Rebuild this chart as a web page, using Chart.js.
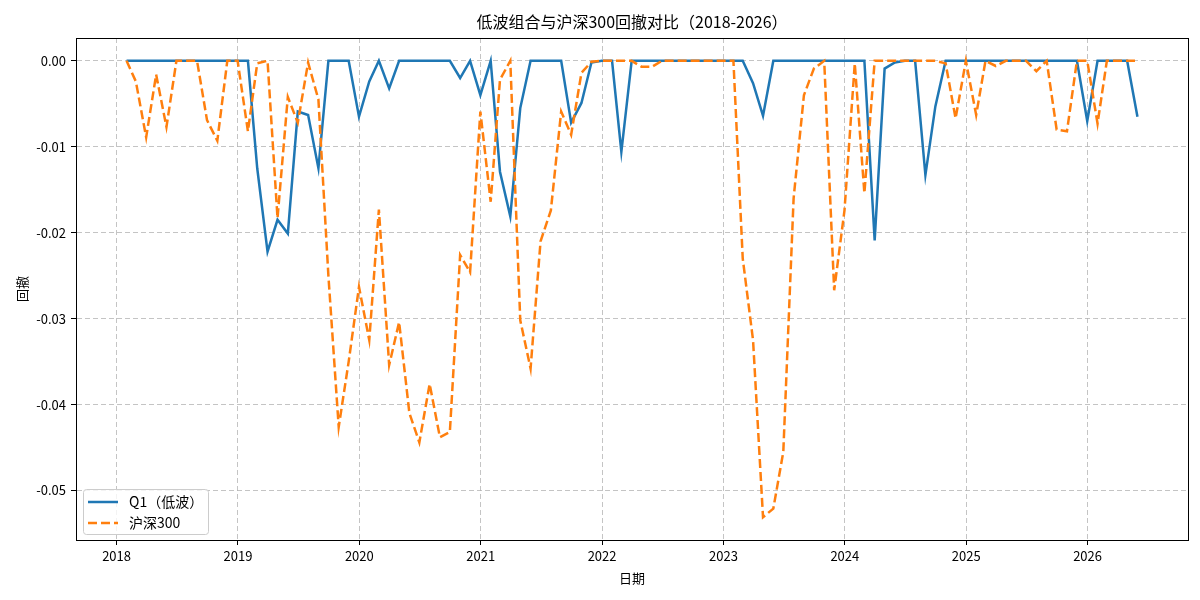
<!DOCTYPE html>
<html>
<head>
<meta charset="utf-8">
<script src="https://cdn.jsdelivr.net/npm/chart.js"></script>
<style>
  html, body { margin: 0; padding: 0; background: #fff; }
  #wrap { width: 1200px; height: 600px; }
</style>
</head>
<body>
<div id="wrap"><canvas id="dd-chart" width="1200" height="600"></canvas></div>
<script>
// 月末日期：2018-01 ～ 2026-05
const startYear = 2018;
const monthCount = 101;

// Q1（低波）回撤，每行一年
const q1Drawdown = [
  0, 0, 0, 0, 0, 0, 0, 0, 0, 0, 0, 0,
  0, -0.0125, -0.0222, -0.0185, -0.0201, -0.0059, -0.0063, -0.0125, 0, 0, 0, -0.0065,
  -0.0024, 0, -0.0032, 0, 0, 0, 0, 0, 0, -0.0020, 0, -0.0040,
  0, -0.0129, -0.0181, -0.0055, 0, 0, 0, 0, -0.0072, -0.0049, -0.0002, 0,
  0, -0.0106, 0, 0, 0, 0, 0, 0, 0, 0, 0, 0,
  0, 0, -0.0026, -0.0064, 0, 0, 0, 0, 0, 0, 0, 0,
  0, 0, -0.0209, -0.0009, -0.0002, 0, 0, -0.0133, -0.0053, 0, 0, 0,
  0, 0, 0, 0, 0, 0, 0, 0, 0, 0, 0, -0.0070,
  0, 0, 0, 0, -0.0065
];

// 沪深300 回撤
const hs300Drawdown = [
  0, -0.0024, -0.0089, -0.0016, -0.0077, 0, 0, 0, -0.0069, -0.0093, 0, 0,
  -0.0082, -0.0003, 0, -0.0183, -0.0042, -0.0072, -0.0002, -0.0045, -0.0250, -0.0426, -0.0350, -0.0263,
  -0.0325, -0.0173, -0.0354, -0.0304, -0.0410, -0.0444, -0.0376, -0.0438, -0.0432, -0.0226, -0.0246, -0.0059,
  -0.0164, -0.0022, 0, -0.0302, -0.0358, -0.0210, -0.0174, -0.0059, -0.0086, -0.0014, -0.0001, 0,
  0, 0, 0, -0.0007, -0.0007, 0, 0, 0, 0, 0, 0, 0,
  0, -0.0230, -0.0325, -0.0531, -0.0521, -0.0455, -0.0160, -0.0040, -0.0009, 0, -0.0267, -0.0174,
  -0.0003, -0.0154, 0, 0, 0, 0, 0, 0, 0, -0.0003, -0.0067, 0,
  -0.0063, 0, -0.0006, 0, 0, 0, -0.0012, 0, -0.0080, -0.0082, 0, 0,
  -0.0073, 0, 0, 0, 0
];

const xTicks = [2018, 2019, 2020, 2021, 2022, 2023, 2024, 2025, 2026];
const yTicks = [0, -0.01, -0.02, -0.03, -0.04, -0.05];

const FONT = '"Noto Sans CJK SC", "Noto Sans", sans-serif';

// 月末日期转成小数年份
function monthEndYear(i) {
  const y = startYear + Math.floor(i / 12);
  const m = i % 12;
  const end = Date.UTC(y, m + 1, 0);
  const yStart = Date.UTC(y, 0, 1);
  const yLen = Date.UTC(y + 1, 0, 1) - yStart;
  return y + (end - yStart) / yLen;
}

const xs = [];
for (let i = 0; i < monthCount; i++) xs.push(monthEndYear(i));

const toPoints = arr => arr.map((v, i) => ({ x: xs[i], y: v }));

// matplotlib 风格的 5% 边距
const xMin = xs[0] - (xs[xs.length - 1] - xs[0]) * 0.05;
const xMax = xs[xs.length - 1] + (xs[xs.length - 1] - xs[0]) * 0.05;
const allY = q1Drawdown.concat(hs300Drawdown);
const yLo = Math.min(...allY), yHi = Math.max(...allY);
const yMin = yLo - (yHi - yLo) * 0.05;
const yMax = yHi + (yHi - yLo) * 0.05;

const frameAndText = {
  id: 'frameAndText',
  afterDraw(chart) {
    const { ctx, chartArea: a } = chart;
    ctx.save();
    // 四周边框
    ctx.strokeStyle = '#000';
    ctx.lineWidth = 1;
    ctx.strokeRect(Math.round(a.left) + 0.5, Math.round(a.top) + 0.5,
                   Math.round(a.right - a.left), Math.round(a.bottom - a.top));

    // 标题与轴标题
    ctx.fillStyle = '#000';
    ctx.textAlign = 'center';
    ctx.textBaseline = 'middle';
    ctx.font = '16px ' + FONT;
    ctx.fillText('低波组合与沪深300回撤对比（2018-2026）', (a.left + a.right) / 2, 22);
    ctx.font = '13px ' + FONT;
    ctx.fillText('日期', (a.left + a.right) / 2, 578);
    ctx.save();
    ctx.translate(22, (a.top + a.bottom) / 2);
    ctx.rotate(-Math.PI / 2);
    ctx.fillText('回撤', 0, 0);
    ctx.restore();

    // 图例（左下角）
    const bx = 83, by = 489, bw = 125, bh = 45;
    ctx.fillStyle = 'rgba(255,255,255,0.8)';
    ctx.strokeStyle = '#cccccc';
    ctx.beginPath();
    ctx.roundRect(bx + 0.5, by + 0.5, bw, bh, 3);
    ctx.fill();
    ctx.stroke();
    const rows = [
      { ds: chart.data.datasets[1], y: 502 },
      { ds: chart.data.datasets[0], y: 523 }
    ];
    ctx.font = '14px ' + FONT;
    ctx.textAlign = 'left';
    rows.forEach(r => {
      ctx.strokeStyle = r.ds.borderColor;
      ctx.lineWidth = r.ds.borderWidth;
      ctx.setLineDash(r.ds.borderDash || []);
      ctx.beginPath();
      ctx.moveTo(88, r.y);
      ctx.lineTo(118, r.y);
      ctx.stroke();
      ctx.setLineDash([]);
      ctx.fillStyle = '#000';
      ctx.fillText(r.ds.label, 129, r.y);
    });
    ctx.restore();
  }
};

const gridOpts = {
  color: 'rgba(176,176,176,0.75)',
  lineWidth: 1,
  tickLength: 5,
  tickColor: '#000',
  tickWidth: 1,
  tickBorderDash: []
};

new Chart(document.getElementById('dd-chart').getContext('2d'), {
  type: 'line',
  data: {
    datasets: [
      {
        label: '沪深300',
        data: toPoints(hs300Drawdown),
        borderColor: '#ff7f0e',
        borderWidth: 2.5,
        borderDash: [9, 4],
        pointRadius: 0,
        tension: 0,
        order: 0
      },
      {
        label: 'Q1（低波）',
        data: toPoints(q1Drawdown),
        borderColor: '#1f77b4',
        borderWidth: 2.5,
        pointRadius: 0,
        tension: 0,
        order: 1
      }
    ]
  },
  plugins: [frameAndText],
  options: {
    responsive: false,
    animation: false,
    events: [],
    layout: { padding: { top: 38, right: 12, left: 0, bottom: 0 } },
    plugins: {
      legend: { display: false },
      title: { display: false },
      tooltip: { enabled: false }
    },
    scales: {
      x: {
        type: 'linear',
        min: xMin,
        max: xMax,
        afterBuildTicks: s => { s.ticks = xTicks.map(v => ({ value: v })); },
        afterFit: s => { s.height = 60; },
        ticks: {
          callback: v => String(v),
          color: '#000',
          font: { family: FONT, size: 13 },
          padding: 3,
          maxRotation: 0
        },
        grid: gridOpts,
        border: { display: true, color: '#000', width: 1, dash: [5, 3] }
      },
      y: {
        type: 'linear',
        min: yMin,
        max: yMax,
        afterBuildTicks: s => { s.ticks = yTicks.map(v => ({ value: v })); },
        afterFit: s => { s.width = 76; },
        ticks: {
          callback: v => v.toFixed(2),
          color: '#000',
          font: { family: FONT, size: 13 },
          padding: 5
        },
        grid: gridOpts,
        border: { display: true, color: '#000', width: 1, dash: [5, 3] }
      }
    }
  }
});
</script>
</body>
</html>
